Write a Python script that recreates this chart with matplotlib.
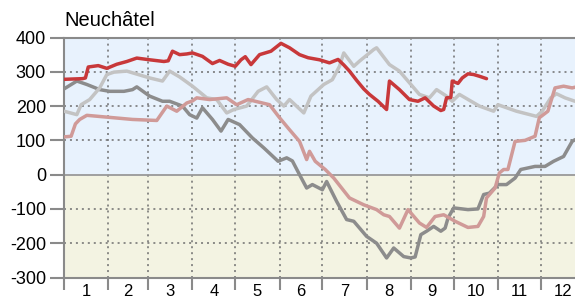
import numpy as np
import matplotlib
matplotlib.use('Agg')
import matplotlib.pyplot as plt

plt.rcParams['font.family'] = ['Liberation Sans', 'DejaVu Sans']

# ---- data (day of year, value) ----
red_days = [0, 13, 15, 17, 24, 30, 37, 44, 51, 60, 70, 73, 76, 81, 86, 90, 97, 104, 109, 115,
            120, 124, 127, 131, 137, 145, 152, 158, 165, 171, 179, 186, 192, 196, 200, 205, 210, 214, 220, 226,
            228, 235, 242, 248, 253, 259, 264, 266, 268, 271, 272, 276, 279, 283, 287, 291, 296]
red_vals = [278, 280, 282, 314, 318, 310, 322, 330, 340, 335, 330, 332, 360, 350, 352, 355, 345, 324, 333, 322,
            316, 335, 344, 321, 350, 360, 383, 370, 350, 341, 335, 326, 336, 320, 302, 275, 250, 234, 214, 190,
            273, 248, 219, 214, 224, 200, 187, 190, 224, 225, 273, 266, 282, 294, 292, 287, 280]

silver_days = [0, 9, 12, 18, 25, 30, 35, 44, 52, 60, 69, 74, 81, 90, 100, 107, 114, 119, 128, 136,
               142, 149, 154, 158, 168, 173, 182, 188, 193, 196, 203, 207, 217, 219, 228, 235, 249, 256, 261, 268,
               272, 277, 291, 301, 304, 317, 331, 335, 341, 345, 351, 358]
silver_vals = [185, 175, 204, 219, 253, 292, 299, 302, 292, 282, 273, 302, 285, 258, 224, 219, 180, 190, 200, 243,
               256, 219, 200, 219, 180, 229, 263, 277, 316, 355, 316, 331, 365, 370, 321, 302, 234, 224, 248, 229,
               214, 234, 200, 185, 204, 185, 170, 185, 224, 236, 224, 214]

pink_days = [0, 5, 8, 11, 16, 32, 48, 65, 72, 79, 86, 90, 93, 102, 114, 121, 129, 134, 144, 151,
             158, 165, 170, 172, 176, 183, 189, 200, 210, 219, 224, 228, 235, 241, 249, 254, 260, 266, 274, 283,
             290, 294, 296, 302, 305, 308, 311, 316, 323, 330, 333, 339, 344, 350, 356, 358]
pink_vals = [110, 112, 148, 161, 173, 167, 161, 158, 200, 185, 209, 215, 224, 219, 224, 204, 219, 214, 204, 166,
             131, 97, 44, 68, 39, 15, -10, -68, -88, -102, -117, -122, -156, -102, -141, -154, -122, -117, -136, -154,
             -151, -122, -68, -39, 5, 15, 15, 97, 100, 112, 166, 185, 253, 258, 253, 255]

grey_days = [0, 9, 16, 25, 32, 42, 48, 51, 60, 69, 74, 83, 88, 93, 97, 104, 110, 115, 123, 132,
             140, 150, 156, 160, 165, 170, 174, 181, 184, 191, 198, 203, 212, 219, 226, 231, 238, 243, 246, 250,
             254, 259, 264, 267, 269, 273, 283, 290, 294, 298, 304, 310, 316, 320, 330, 337, 343, 350, 356, 358]
grey_vals = [250, 273, 263, 248, 243, 243, 248, 256, 229, 214, 214, 200, 175, 165, 195, 161, 127, 161, 146, 107,
             78, 39, 49, 40, 0, -39, -29, -44, -20, -78, -131, -136, -180, -200, -243, -214, -239, -243, -240, -175,
             -165, -151, -165, -156, -127, -97, -102, -100, -58, -54, -29, -29, -10, 15, 24, 24, 39, 53, 97, 102]

month_edges = [0, 31, 59, 90, 120, 151, 181, 212, 243, 273, 304, 334, 365]
month_labels = [str(m) for m in range(1, 13)]
yticks = [-300, -200, -100, 0, 100, 200, 300, 400]

fig = plt.figure(figsize=(5.75, 3.02), dpi=100)
# right edge runs past the figure (December is cut off)
ax = fig.add_axes([64 / 575, 24.5 / 302, 521 / 575, 240 / 302])

ax.set_xlim(0, 365)
ax.set_ylim(-300, 400)

# background bands
ax.axhspan(0, 400, color='#e8f2fd', zorder=0)
ax.axhspan(-300, 0, color='#f3f3e2', zorder=0)

# dotted grid
for e in month_edges[1:-1]:
    ax.axvline(e, color='#6e6e6e', lw=1.1, ls=(0, (1.3, 2.6)), zorder=1)
for yv in [-200, -100, 100, 200, 300]:
    ax.axhline(yv, color='#6e6e6e', lw=1.1, ls=(0, (1.3, 2.6)), zorder=1)
ax.axhline(0, color='#999999', lw=1.3, zorder=1)

# series
kw = dict(lw=2.5, solid_joinstyle='round', solid_capstyle='round')
ax.plot(grey_days, grey_vals, color='#8c8c8c', zorder=3, **kw)
ax.plot(silver_days, silver_vals, color='#c3c3c3', zorder=4, **kw)
ax.plot(pink_days, pink_vals, color='#d09a98', zorder=5, **kw)
ax.plot(red_days, red_vals, color='#c8383a', zorder=6, **kw)

# axes styling
for s in ['left', 'bottom', 'top']:
    ax.spines[s].set_color('#8a8a8a')
    ax.spines[s].set_linewidth(1.5)
ax.spines['right'].set_visible(False)

ax.set_yticks(yticks)
ax.set_yticklabels([str(v) for v in yticks], fontsize=13)
ax.tick_params(axis='y', length=10, width=1.5, color='#8a8a8a', pad=3)

centers = [(a + b) / 2 for a, b in zip(month_edges[:-1], month_edges[1:])]
ax.set_xticks(centers)
ax.set_xticklabels(month_labels, fontsize=12)
ax.set_xticks(month_edges[:-1], minor=True)
ax.tick_params(axis='x', which='major', length=0, pad=5)
ax.tick_params(axis='x', which='minor', length=8.5, width=1.5, color='#8a8a8a')

fig.text(64 / 575, 1 - 21 / 302, 'Neuchâtel', fontsize=14.5, ha='left', va='center')

fig.savefig('out.png', dpi=100)
